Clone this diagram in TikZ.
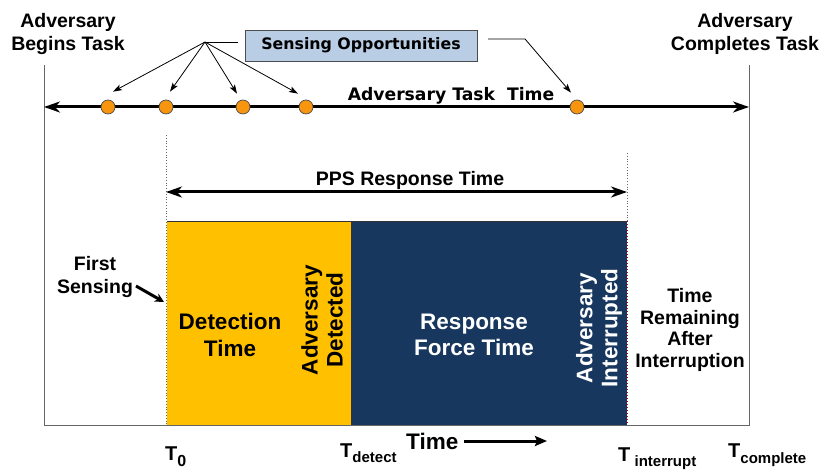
\documentclass[tikz,border=0pt]{standalone}
\usepackage{fontspec}
\setmainfont{Liberation Sans}
\newfontfamily\verd{DejaVu Sans}
\usetikzlibrary{arrows.meta}
\definecolor{gold}{HTML}{FFC000}
\definecolor{navy}{HTML}{17375E}
\definecolor{boxblue}{HTML}{B9CDE5}
\definecolor{dotorange}{HTML}{F7950F}
\tikzset{
  lbl/.style={font=\bfseries\fontsize{19.5}{23}\selectfont, align=center, inner sep=0pt},
  phase/.style={font=\bfseries\fontsize{22.5}{26.5}\selectfont, align=center, inner sep=0pt},
  big/.style={line width=3pt, -{Stealth[length=16pt,width=11pt,inset=5pt]}},
  bothbig/.style={line width=3pt, {Stealth[length=16pt,width=11pt,inset=5pt]}-{Stealth[length=16pt,width=11pt,inset=5pt]}},
  frame/.style={draw=black!60, line width=1pt},
  opp/.style={circle, fill=dotorange, draw=black!70, line width=0.7pt, minimum size=14pt, inner sep=0pt},
  pointer/.style={line width=0.8pt, -{Stealth[length=9pt,width=6pt,inset=2pt]}},
  tick/.style={draw=black!60, dotted, line width=0.8pt},
  instant/.style={font=\bfseries\fontsize{20}{22}\selectfont, anchor=base west, inner sep=0pt}
}
\begin{document}
\begin{tikzpicture}[x=1pt,y=-1pt]
\useasboundingbox (0,0) rectangle (824,473);

% outer frame: start and end of the task, common base line
\draw[frame] (44,65) -- (44,425) -- (749,425) -- (749,65);

% coloured phases
\fill[gold] (167,221) rectangle (351,425);
\fill[navy] (351,221) rectangle (627,425);
\draw[black!80, line width=0.8pt] (167,221) -- (627,221);
\draw[black!80, line width=0.8pt] (351,221) -- (351,425);
\draw[red!80!black, dotted, line width=1pt] (627,221) -- (627,425);

% guide lines for T0 and Tinterrupt
\draw[tick] (166,135) -- (166,425);
\draw[tick] (627,153) -- (627,221);

% end points of the task time line
\coordinate (tl) at (44,107);
\coordinate (tr) at (749,107);
\draw[bothbig] (tl) -- (tr);

% sensing opportunities along the line
\node[opp] (s1) at (108,107) {};
\node[opp] (s2) at (166,107) {};
\node[opp] (s3) at (243,107) {};
\node[opp] (s4) at (306,107) {};
\node[opp] (s5) at (577,107) {};

\node[lbl, font=\verd\bfseries\fontsize{17.2}{20}\selectfont, anchor=south] (att) at (451,104) {Adversary Task\ \ Time};

% labels at the two ends
\node[lbl] (begin) at (68,34) {Adversary\\Begins Task};
\node[lbl] (complete) at (745,34) {Adversary\\Completes Task};

% callout box with its pointers
\node[draw=black!70, line width=0.8pt, fill=boxblue, minimum width=232pt, minimum height=31pt, inner sep=0pt,
      font=\verd\bfseries\fontsize{15.8}{18}\selectfont] (sens) at (361,45.5) {Sensing Opportunities};
\coordinate (fan) at (205,42);
\coordinate (fanend) at (238,42);
\draw[line width=0.8pt] (fan) -- (fanend);
\draw[pointer] (fan) -- ([shift={(5,-8)}]s1.north);
\draw[pointer] (fan) -- ([shift={(4,-8)}]s2.north);
\draw[pointer] (fan) -- ([shift={(-6,-6)}]s3.north);
\draw[pointer] (fan) -- ([shift={(-8,-6)}]s4.north);
\coordinate (r0) at (488,39);
\coordinate (r1) at (525,39);
\draw[pointer] (r0) -- (r1) -- ([shift={(-6,-7)}]s5.north);

% PPS response time span
\coordinate (pl) at (166,192);
\coordinate (pr) at (627,192);
\draw[bothbig] (pl) -- (pr);
\node[lbl, anchor=south] (pps) at (410,190) {PPS Response Time};

% phase texts
\node[phase] (det) at (230,335) {Detection\\Time};
\node[phase, rotate=90, font=\bfseries\fontsize{22.5}{25}\selectfont] (adet) at (322,320) {Adversary\\Detected};
\node[phase, text=white] (rft) at (474,335) {Response\\Force Time};
\node[phase, text=white, rotate=90, font=\bfseries\fontsize{22.5}{25}\selectfont] (aint) at (599,328) {Adversary\\Interrupted};
\node[lbl, font=\bfseries\fontsize{19.5}{21.5}\selectfont] (rem) at (690,330) {Time\\Remaining\\After\\Interruption};

% first sensing
\node[lbl] (first) at (95,277) {First\\Sensing};
\coordinate (fs) at (164,302);
\draw[line width=3pt, -{Stealth[length=9pt,width=9pt]}] (136,286) -- (fs);

% time direction
\node[phase, anchor=west] (time) at (406,441) {Time};
\coordinate (ta) at (464,441);
\coordinate (tb) at (547,441);
\draw[line width=3pt, -{Stealth[length=12pt,width=10pt,inset=2pt]}] (ta) -- (tb);

% instants
\node[instant] (t0) at (165,460) {T\raisebox{-6pt}{\fontsize{16}{16}\selectfont 0}};
\node[instant] (tdet) at (340,457) {T\raisebox{-5pt}{\fontsize{15}{15}\selectfont detect}};
\node[instant] (tint) at (618,461) {T\raisebox{-5pt}{\fontsize{15}{15}\selectfont\ interrupt}};
\node[instant] (tcom) at (728,457) {T\raisebox{-6pt}{\fontsize{15}{15}\selectfont complete}};
\end{tikzpicture}
\end{document}
